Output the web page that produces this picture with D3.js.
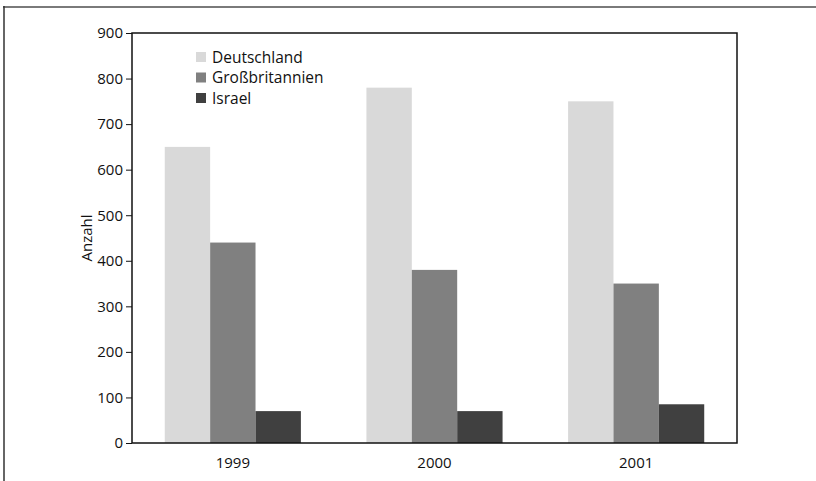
<!DOCTYPE html>
<html><head><meta charset="utf-8">
<script src="https://cdn.jsdelivr.net/npm/d3@7"></script>
<style>html,body{margin:0;padding:0;background:#fff;}svg{display:block;font-family:"Open Sans",sans-serif;}</style>
</head><body>
<script>
const years = ["1999", "2000", "2001"];
const seriesNames = ["Deutschland", "Großbritannien", "Israel"];
const deutschland = [650, 780, 750];
const grossbritannien = [440, 380, 350];
const israel = [70, 70, 85];
const yTicks = [0, 100, 200, 300, 400, 500, 600, 700, 800, 900];
const colors = ["#d9d9d9", "#808080", "#404040"];
const seriesValues = [deutschland, grossbritannien, israel];

const W = 816, H = 481;
const m = {left: 132, right: 79, top: 33, bottom: 38};
const svg = d3.select("body").append("svg").attr("width", W).attr("height", H);

// outer frame
svg.append("line").attr("x1", 3).attr("x2", W).attr("y1", 7).attr("y2", 7)
  .attr("stroke", "#7a7a7a").attr("stroke-width", 2);
svg.append("line").attr("x1", 4).attr("x2", 4).attr("y1", 6).attr("y2", H)
  .attr("stroke", "#333").attr("stroke-width", 1.5);

const x0 = d3.scaleBand().domain(years).range([m.left, W - m.right]).paddingInner(0.325).paddingOuter(0.1625);
const x1 = d3.scaleBand().domain(seriesNames).range([0, x0.bandwidth()]);
const y = d3.scaleLinear().domain([0, 900]).range([H - m.bottom, m.top]);

const g = svg.append("g");
years.forEach((yr, i) => {
  seriesNames.forEach((s, j) => {
    const v = seriesValues[j][i];
    g.append("rect")
      .attr("x", x0(yr) + x1(s))
      .attr("width", x1.bandwidth())
      .attr("y", y(v))
      .attr("height", y(0) - y(v))
      .attr("fill", colors[j]);
  });
});

// plot frame
svg.append("rect").attr("x", m.left).attr("y", m.top)
  .attr("width", W - m.right - m.left).attr("height", H - m.bottom - m.top)
  .attr("fill", "none").attr("stroke", "#111").attr("stroke-width", 1.5);

// y axis
const ya = svg.append("g").attr("transform", `translate(${m.left},0)`)
  .call(d3.axisLeft(y).tickValues(yTicks).tickSize(6).tickPadding(3));
ya.select(".domain").remove();
ya.selectAll("line").attr("stroke", "#111");
ya.selectAll("text").attr("font-size", 15).attr("fill", "#111").attr("font-family", '"Open Sans",sans-serif');

// x axis
const xa = svg.append("g").attr("transform", `translate(0,${H - m.bottom})`)
  .call(d3.axisBottom(x0).tickSize(0).tickPadding(14));
xa.select(".domain").remove();
xa.selectAll("text").attr("font-size", 15).attr("fill", "#111").attr("font-family", '"Open Sans",sans-serif');

// y label
svg.append("text").attr("transform", `translate(92,${(m.top + H - m.bottom) / 2}) rotate(-90)`)
  .attr("text-anchor", "middle").attr("font-size", 15).attr("fill", "#111").text("Anzahl");

// legend
const leg = svg.append("g");
seriesNames.forEach((s, j) => {
  const yy = 52 + j * 20.5;
  leg.append("rect").attr("x", 196).attr("y", yy).attr("width", 10).attr("height", 10).attr("fill", colors[j]);
  leg.append("text").attr("x", 212).attr("y", yy + 10.5).attr("font-size", 15.5).attr("fill", "#111").text(s);
});
</script>
</body></html>
